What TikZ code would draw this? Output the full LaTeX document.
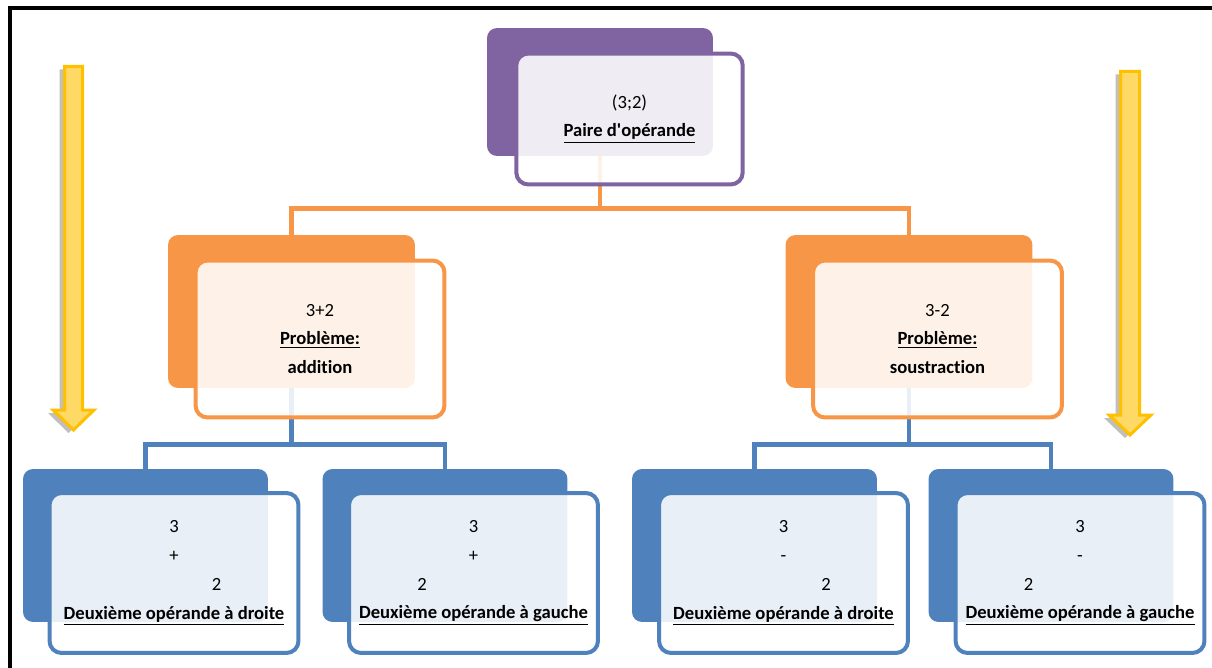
\documentclass[tikz,border=0pt]{standalone}
\usepackage{fontspec}
\setmainfont{Carlito}[Ligatures=NoCommon]
\usetikzlibrary{shadows}
\definecolor{pairpurple}{HTML}{8064A2}
\definecolor{probOrange}{HTML}{F79646}
\definecolor{opBlue}{HTML}{4F81BD}
\definecolor{arrowGold}{HTML}{FFC000}
\definecolor{arrowLight}{HTML}{FFD966}
\newcommand{\souligne}[1]{\textbf{\underline{#1}}}

\begin{document}
\begin{tikzpicture}[x=0.02cm, y=-0.02cm,
    backbox/.style={fill=#1, rounded corners=0.2cm, inner sep=0pt},
    frontbox/.style={draw=#1, line width=0.08cm, fill=white, fill opacity=0.88, text opacity=1,
      rounded corners=0.24cm, inner sep=0pt, align=center, font=\fontsize{10.6}{16.4}\selectfont},
    topsize/.style={minimum width=4.53cm, minimum height=2.62cm},
    midsize/.style={minimum width=4.98cm, minimum height=3.14cm},
    lowsize/.style={minimum width=4.98cm, minimum height=3.2cm},
    link/.style={draw=#1, line width=0.09cm},
    goldarrow/.style={draw=arrowGold, fill=arrowLight, line width=0.06cm, line join=miter,
      drop shadow={shadow xshift=-0.1cm, shadow yshift=-0.06cm, fill=black, opacity=0.25}}]
    \useasboundingbox (0,0) rectangle (1212,668);

    % frame
    \draw [line width=0.08cm, line join=miter] (10,668) -- (10,8) -- (1212,8);

    % down arrows
    \draw [goldarrow] (64.5,66.5) -- (82.5,66.5) -- (82.5,410) -- (94,410) -- (73.5,430)
      -- (53,410) -- (64.5,410) -- cycle;
    \draw [goldarrow] (1120.5,71.5) -- (1139.5,71.5) -- (1139.5,415) -- (1151,415) -- (1130,435)
      -- (1109,415) -- (1120.5,415) -- cycle;

    % back boxes
    \node [backbox=pairpurple, minimum width=4.52cm, minimum height=2.56cm, name=p1] at (600,92) {};
    \node [backbox=probOrange, minimum width=4.94cm, minimum height=3.06cm, name=a1] at (291.5,311.5) {};
    \node [backbox=probOrange, minimum width=4.94cm, minimum height=3.06cm, name=s1] at (909,311.5) {};
    \node [backbox=opBlue, minimum width=4.9cm, minimum height=3.06cm, name=d1] at (145.5,545.5) {};
    \node [backbox=opBlue, minimum width=4.9cm, minimum height=3.06cm, name=g1] at (445,545.5) {};
    \node [backbox=opBlue, minimum width=4.9cm, minimum height=3.06cm, name=d3] at (754.5,545.5) {};
    \node [backbox=opBlue, minimum width=4.9cm, minimum height=3.06cm, name=g3] at (1051,545.5) {};

    % pair -> problems
    \draw [link=probOrange] (p1.south) -- ++(0,52) -| (a1.north);
    \draw [link=probOrange] (p1.south) -- ++(0,52) -| (s1.north);

    % problems -> operands
    \draw [link=opBlue] (a1.south) -- ++(0,56) -| (d1.north);
    \draw [link=opBlue] (a1.south) -- ++(0,56) -| (g1.north);
    \draw [link=opBlue] (s1.south) -- ++(0,56) -| (d3.north);
    \draw [link=opBlue] (s1.south) -- ++(0,56) -| (g3.north);

    % front boxes
    \node [frontbox=pairpurple, topsize, name=p2] at (629.5,119)
      {(3;2)\\\souligne{Paire d\textquotesingle opérande}};
    \node [frontbox=probOrange, midsize, name=a2] at (320,339) {3+2\\\souligne{Problème:}\\\textbf{addition}};
    \node [frontbox=probOrange, midsize, name=s2] at (937.5,339) {3-2\\\souligne{Problème:}\\\textbf{soustraction}};
    \node [frontbox=opBlue, lowsize, name=d2] at (174,573)
      {3\\+\\\hspace*{1.7cm}2\\\souligne{Deuxième opérande à droite}};
    \node [frontbox=opBlue, lowsize, name=g2] at (473.5,573)
      {3\\+\\2\hspace*{2.06cm}\null\\\souligne{Deuxième opérande à gauche}};
    \node [frontbox=opBlue, lowsize, name=d4] at (783.5,573)
      {3\\-\\\hspace*{1.7cm}2\\\souligne{Deuxième opérande à droite}};
    \node [frontbox=opBlue, lowsize, name=g4] at (1080,573)
      {3\\-\\2\hspace*{2.06cm}\null\\\souligne{Deuxième opérande à gauche}};
  \end{tikzpicture}
\end{document}
